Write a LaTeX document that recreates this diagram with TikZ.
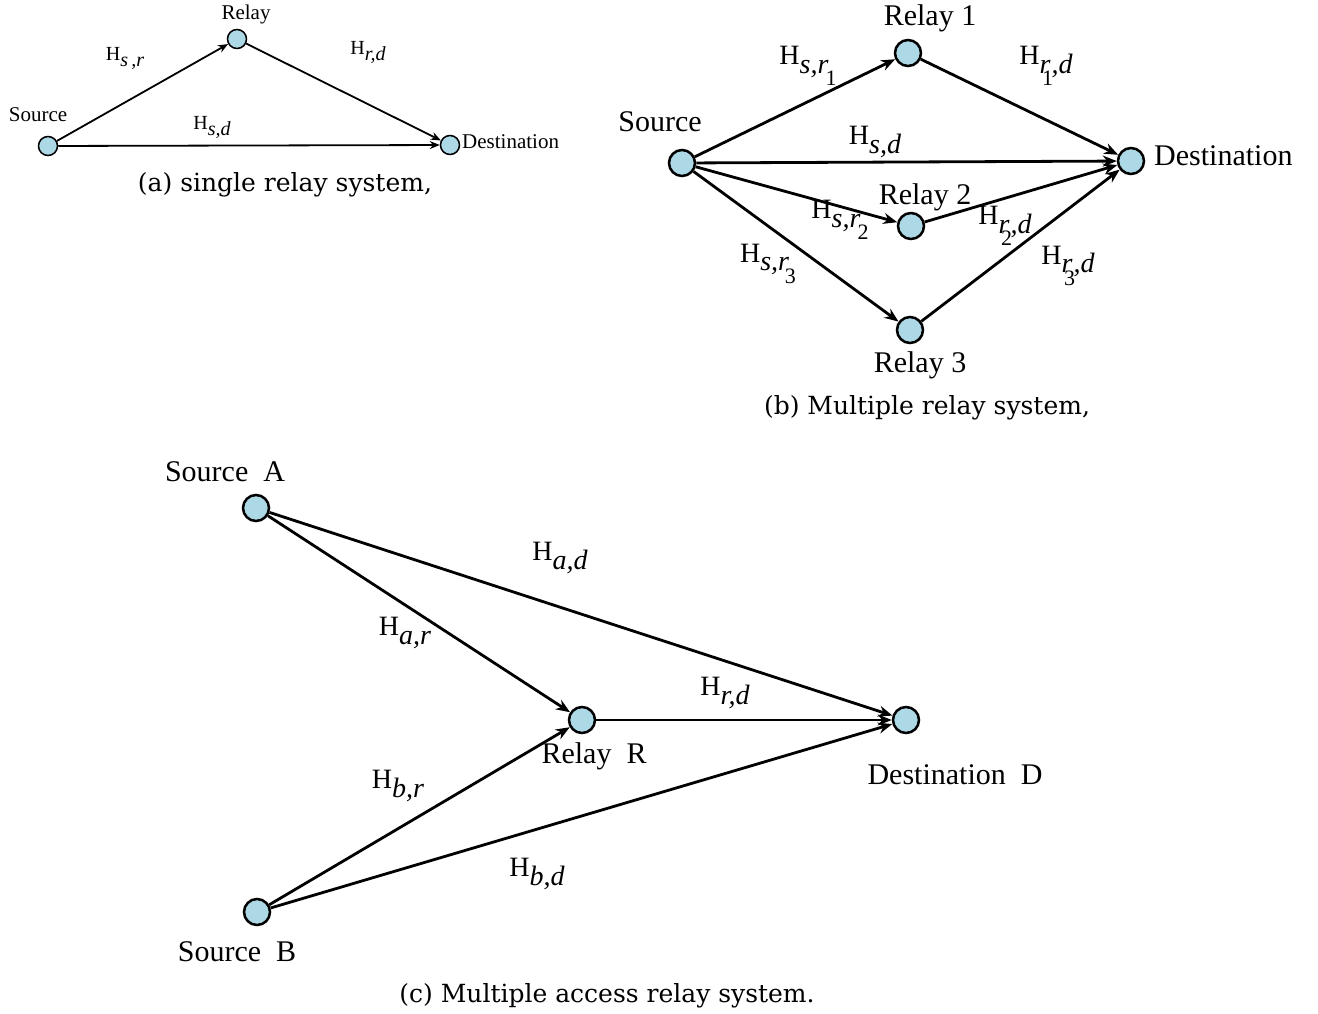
\documentclass[tikz,border=0pt]{standalone}
\usepackage{fontspec}
\setmainfont{Liberation Serif}
\newfontfamily\capfont{DejaVu Serif}
\usetikzlibrary{arrows.meta}
\definecolor{nodeblue}{RGB}{173,216,230}
\newcommand{\Hsub}[1]{H\raisebox{-0.3em}{\itshape #1}}
\newcommand{\lowdig}[1]{\raisebox{-0.45em}{\upshape\fontsize{22}{24}\selectfont #1}}
\tikzset{
  nda/.style={circle,draw,fill=nodeblue,line width=1.5pt,minimum size=19pt,inner sep=0pt},
  ndb/.style={circle,draw,fill=nodeblue,line width=2.5pt,minimum size=26pt,inner sep=0pt},
  arra/.style={-{Stealth[length=10pt,width=8pt]},line width=1.8pt},
  arrb/.style={-{Stealth[length=14pt,width=11pt]},line width=2.8pt},
  laba/.style={font=\fontsize{21}{23}\selectfont,inner sep=0pt},
  elaba/.style={font=\fontsize{20}{22}\selectfont,inner sep=0pt},
  labb/.style={font=\fontsize{30}{32}\selectfont,inner sep=0pt},
  elabb/.style={font=\fontsize{28}{30}\selectfont,inner sep=0pt},
  caption/.style={font=\capfont\fontsize{25}{27}\selectfont,inner sep=0pt},
}
\begin{document}
\begin{tikzpicture}[x=1pt,y=-1pt]
\useasboundingbox (0,0) rectangle (1318,1014);
% ---------- (a)
\node[nda] (as) at (48,146) {};
\node[nda] (ar) at (237,39) {};
\node[nda] (ad) at (450,145) {};
\node[laba] (asl) at (38,115) {Source};
\node[laba] (arl) at (246,14) {Relay};
\node[laba,anchor=west] (adl) at (462,142) {Destination};
\draw[arra] (as) -- (ar);
\draw[arra] (ar) -- (ad);
\draw[arra] (as) -- (ad);
\node[elaba] (ahsr) at (125,58) {\Hsub{s\,,r}};
\node[elaba] (ahrd) at (368,52) {\Hsub{r,d}};
\node[elaba] (ahsd) at (212,127) {\Hsub{s,d}};
\node[caption] (acap) at (285,185) {(a) single relay system,};
% ---------- (b)
\node[ndb] (bs) at (682,163) {};
\node[ndb] (br1) at (908,53) {};
\node[ndb] (bd) at (1131,161) {};
\node[ndb] (br2) at (911,226) {};
\node[ndb] (br3) at (910,330) {};
\node[labb] (bsl) at (660,122) {Source};
\node[labb] (br1l) at (930,18) {Relay 1};
\node[labb,anchor=west] (bdl) at (1154,156) {Destination};
\node[labb] (br2l) at (925,197) {Relay 2};
\node[labb] (br3l) at (920,365) {Relay 3};
\draw[arrb] (bs) -- (br1);
\draw[arrb] (br1) -- (bd);
\draw[arrb] (bs) -- (bd);
\draw[arrb] (bs) -- (br2);
\draw[arrb] (br2) -- (bd);
\draw[arrb] (bs) -- (br3);
\draw[arrb] (br3) -- (bd);
\node[elabb] (bhsr1) at (808,66) {\Hsub{s,r\kern-0.1em\lowdig{1}}};
\node[elabb] (bhr1d) at (1046,66) {H\raisebox{-0.3em}{\itshape r\kern-0.3em\lowdig{1}\kern-0.05em,d}};
\node[elabb] (bhsd) at (875,142) {\Hsub{s,d}};
\node[elabb] (bhsr2) at (840,220) {\Hsub{s,r\kern-0.1em\lowdig{2}}};
\node[elabb] (bhr2d) at (1005,226) {H\raisebox{-0.3em}{\itshape r\kern-0.3em\lowdig{2}\kern-0.05em,d}};
\node[elabb] (bhsr3) at (768,264) {\Hsub{s,r\kern-0.15em\lowdig{3}}};
\node[elabb] (bhr3d) at (1068,266) {H\raisebox{-0.3em}{\itshape r\kern-0.3em\lowdig{3}\kern-0.05em,d}};
\node[caption] (bcap) at (927,408) {(b) Multiple relay system,};
% ---------- (c)
\node[ndb] (ca) at (256,508) {};
\node[ndb] (cr) at (582,720) {};
\node[ndb] (cd) at (906,720) {};
\node[ndb] (cb) at (257,912) {};
\node[labb] (cal) at (225,472) {Source\ \ A};
\node[labb] (crl) at (594,756) {Relay\ \ R};
\node[labb] (cdl) at (955,775) {Destination\ \ D};
\node[labb] (cbl) at (237,952) {Source\ \ B};
\draw[arrb] (ca) -- (cr);
\draw[arrb] (ca) -- (cd);
\draw[arrb] (cr) -- (cd);
\draw[arrb] (cb) -- (cr);
\draw[arrb] (cb) -- (cd);
\node[elabb] (chad) at (560,558) {\Hsub{a,d}};
\node[elabb] (char) at (405,633) {\Hsub{a,r}};
\node[elabb] (chrd) at (725,693) {\Hsub{r,d}};
\node[elabb] (chbr) at (398,786) {\Hsub{b,r}};
\node[elabb] (chbd) at (537,874) {\Hsub{b,d}};
\node[caption] (ccap) at (607,996) {(c) Multiple access relay system.};
\end{tikzpicture}
\end{document}
